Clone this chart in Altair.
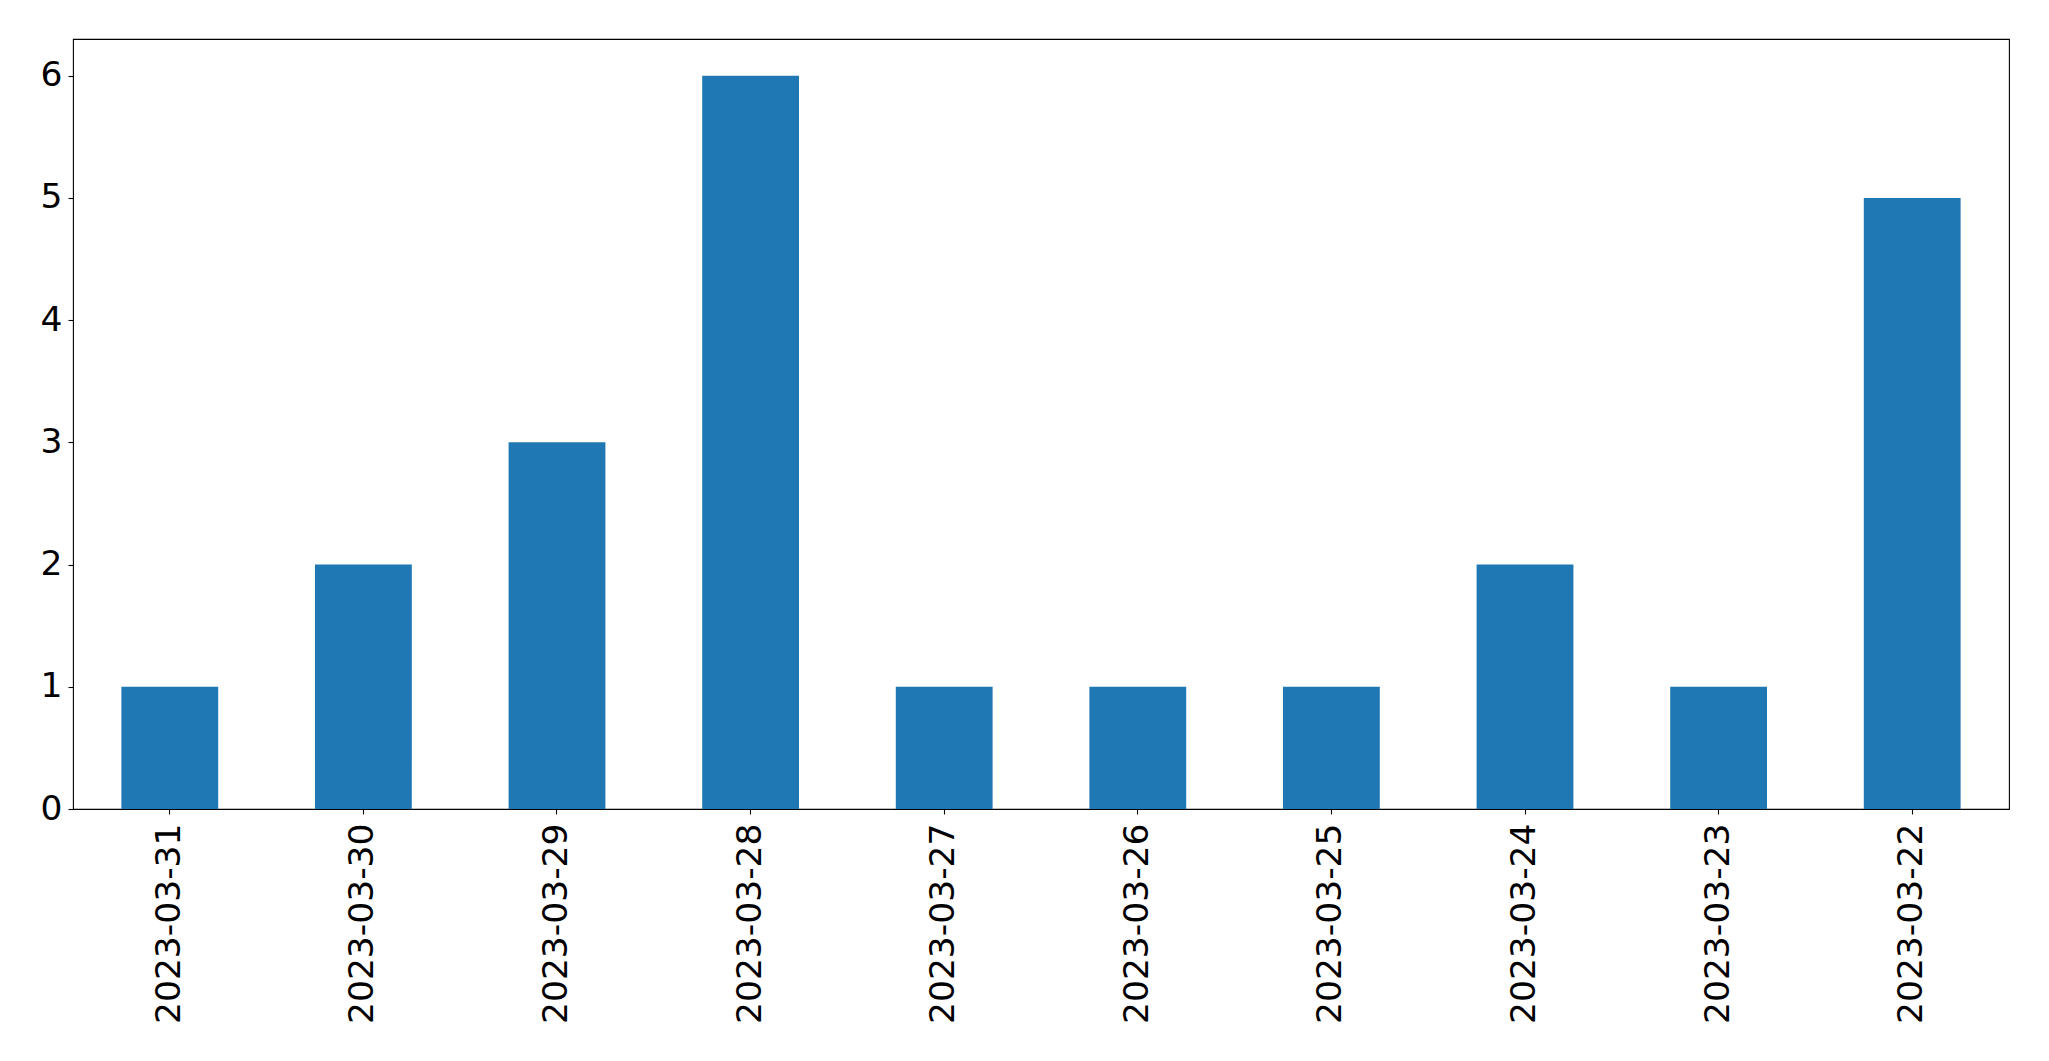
import altair as alt
import pandas as pd

dates = ["2023-03-31", "2023-03-30", "2023-03-29", "2023-03-28", "2023-03-27",
         "2023-03-26", "2023-03-25", "2023-03-24", "2023-03-23", "2023-03-22"]
counts = [1, 2, 3, 6, 1, 1, 1, 2, 1, 5]

df = pd.DataFrame({"date": dates, "count": counts})

FONT = "DejaVu Sans"

chart = alt.Chart(df).mark_bar(color="#1f77b4").encode(
    x=alt.X("date:N", sort=dates, title=None,
            scale=alt.Scale(paddingInner=0.5, paddingOuter=0.25),
            axis=alt.Axis(labelAngle=270, labelFontSize=34.5, labelFont=FONT,
                          labelColor="black", tickColor="black", tickSize=5,
                          tickWidth=1.1, labelPadding=9, domain=False,
                          labelLimit=1000,
                          labelAlign="right", labelBaseline="middle")),
    y=alt.Y("count:Q", title=None,
            scale=alt.Scale(domain=[0, 6.3], nice=False, zero=True),
            axis=alt.Axis(values=[0, 1, 2, 3, 4, 5, 6], labelFontSize=34.5,
                          labelFont=FONT, labelColor="black", tickColor="black",
                          tickSize=5, tickWidth=1.1, labelPadding=6, grid=False,
                          domain=False, format="d")),
).properties(
    width=1936,
    height=770,
    autosize=alt.AutoSizeParams(type="none"),
    padding={"left": 65, "top": 31, "right": 32, "bottom": 230},
    background="white",
).configure_view(
    stroke="black", strokeWidth=1.1
)

chart.save("out.html", embed_options={"renderer": "svg", "actions": False})
